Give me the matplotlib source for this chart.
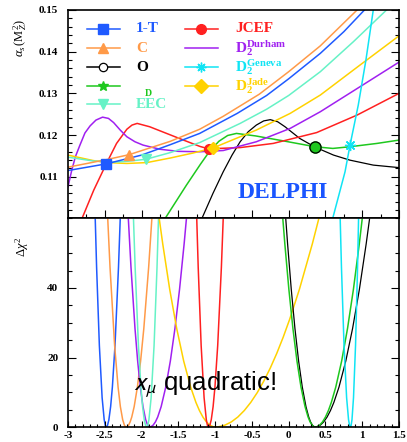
import matplotlib
matplotlib.use('Agg')
import matplotlib.pyplot as plt
from matplotlib.path import Path
from matplotlib.patches import PathPatch
from matplotlib.ticker import MultipleLocator

# ==========================================
# alpha_s(M_Z^2) vs x_mu  and  delta chi^2 vs x_mu (DELPHI)
# ==========================================
plt.rcParams['font.family'] = 'Liberation Serif'
plt.rcParams['mathtext.fontset'] = 'custom'
plt.rcParams['mathtext.rm'] = 'Liberation Serif'
plt.rcParams['mathtext.it'] = 'Liberation Serif:italic'
plt.rcParams['mathtext.bf'] = 'Liberation Serif:bold'

# --- top panel: alpha_s curves ---
x_1t = [-3.0, -2.48, -2.0, -1.61, -1.21, -0.70, -0.30, 0.0, 0.43, 0.75, 1.03]
a_1t = [0.1115, 0.1131, 0.1152, 0.1177, 0.1204, 0.1252, 0.1295, 0.1335, 0.1396, 0.1448, 0.1500]

x_c = [-3.0, -2.48, -2.17, -1.61, -1.21, -0.89, -0.40, 0.0, 0.43, 0.93]
a_c = [0.1123, 0.1141, 0.1153, 0.1185, 0.1214, 0.1245, 0.1298, 0.1352, 0.1414, 0.1500]

x_eec = [-3.0, -2.66, -2.40, -2.20, -1.94, -1.61, -1.21, -0.66, -0.30, 0.0, 0.43, 0.88, 1.33]
a_eec = [0.1147, 0.1138, 0.1135, 0.1137, 0.1142, 0.1158, 0.1182, 0.1228, 0.1262, 0.1295, 0.1352, 0.1424, 0.1500]

x_jade = [-3.0, -2.66, -2.47, -2.20, -1.93, -1.61, -1.30, -1.03, -0.44, 0.02, 0.43, 0.97, 1.5]
a_jade = [0.1152, 0.1139, 0.1134, 0.1132, 0.1134, 0.1145, 0.1157, 0.1169, 0.1212, 0.1252, 0.1296, 0.1368, 0.1438]

x_durham = [-3.0, -2.95, -2.90, -2.84, -2.77, -2.70, -2.62, -2.53, -2.45, -2.38, -2.29, -2.20,
            -2.09, -1.98, -1.75, -1.50, -1.21, -0.89, -0.44, 0.02, 0.43, 0.97, 1.5]
a_durham = [0.1076, 0.1115, 0.1148, 0.1175, 0.1205, 0.1222, 0.1236, 0.1243, 0.1240, 0.1230, 0.1212, 0.1196,
            0.1184, 0.1176, 0.1166, 0.1161, 0.1160, 0.1163, 0.1184, 0.1216, 0.1256, 0.1316, 0.1375]

x_jcef = [-2.81, -2.65, -2.48, -2.34, -2.20, -2.13, -2.06, -1.89, -1.66, -1.43, -1.21, -1.09,
          -0.66, -0.21, 0.38, 0.93, 1.5]
a_jcef = [0.1000, 0.1068, 0.1131, 0.1180, 0.1214, 0.1224, 0.1228, 0.1220, 0.1204, 0.1188, 0.1173, 0.1167,
          0.1170, 0.1180, 0.1206, 0.1248, 0.1300]

x_d = [-1.68, -1.39, -1.20, -1.08, -0.95, -0.83, -0.71, -0.45, -0.07, 0.36, 0.60, 0.83, 1.20, 1.50]
a_d = [0.1000, 0.1080, 0.1130, 0.1160, 0.1185, 0.1199, 0.1204, 0.1198, 0.1186, 0.1172, 0.1168, 0.1172, 0.1180, 0.1188]

x_o = [-1.18, -1.03, -0.89, -0.77, -0.66, -0.55, -0.44, -0.34, -0.25, -0.15, -0.05, 0.05, 0.15,
       0.36, 0.61, 0.83, 1.15, 1.50]
a_o = [0.1000, 0.1060, 0.1112, 0.1152, 0.1184, 0.1208, 0.1224, 0.1234, 0.1237, 0.1232, 0.1220, 0.1206, 0.1192,
       0.1171, 0.1152, 0.1140, 0.1128, 0.1122]

x_geneva = [0.598, 0.766, 0.834, 0.946, 1.05, 1.15]
a_geneva = [0.100, 0.1112, 0.1176, 0.1272, 0.138, 0.150]

# fitted points (markers) on the top panel
best_1t = (-2.48, 0.1131)
best_c = (-2.17, 0.1153)
best_o = (0.36, 0.1171)
best_d = (0.36, 0.1171)
best_eec = (-1.94, 0.1142)
best_jcef = (-1.09, 0.1167)
best_jade = (-1.03, 0.1169)
best_geneva = (0.834, 0.1176)

# --- bottom panel: delta chi2 parabolas (minimum, left/right crossing at top) ---
chi2_top = 60
chi2_min = {'1-T': -2.48, 'C': -2.21, 'O': 0.36, 'D': 0.36, 'EEC': -1.93,
            'JCEF': -1.09, 'Durham': -1.89, 'Geneva': 0.84, 'Jade': -1.00}
chi2_left = {'1-T': -2.63, 'C': -2.46, 'O': -0.04, 'D': -0.08, 'EEC': -2.11,
             'JCEF': -1.25, 'Durham': -2.18, 'Geneva': 0.70, 'Jade': -1.76}
chi2_right = {'1-T': -2.29, 'C': -1.86, 'O': 1.10, 'D': 1.00, 'EEC': -1.77,
              'JCEF': -0.89, 'Durham': -1.39, 'Geneva': 0.95, 'Jade': 0.41}

x_ticks = [-3, -2.5, -2, -1.5, -1, -0.5, 0, 0.5, 1, 1.5]
x_tick_labels = ['-3', '-2.5', '-2', '-1.5', '-1', '-0.5', '0', '0.5', '1', '1.5']
a_ticks = [0.11, 0.12, 0.13, 0.14, 0.15]
c_ticks = [0, 20, 40]

colors = {
    '1-T': '#1f5aff', 'C': '#ff9a48', 'O': '#000000', 'D': '#1ec81e', 'EEC': '#66f2c6',
    'JCEF': '#ff2020', 'Durham': '#a020f0', 'Geneva': '#10e4f4', 'Jade': '#ffd200',
}

fig = plt.figure(figsize=(4.07, 4.42), dpi=100)
ax1 = fig.add_axes([0.1671, 0.5057, 0.8133, 0.4717])
ax2 = fig.add_axes([0.1671, 0.0339, 0.8133, 0.4718])

lw = 1.1

# top panel curves
ax1.plot(x_o, a_o, color=colors['O'], lw=0.9)
ax1.plot(x_d, a_d, color=colors['D'], lw=lw)
ax1.plot(x_jcef, a_jcef, color=colors['JCEF'], lw=lw)
ax1.plot(x_durham, a_durham, color=colors['Durham'], lw=lw)
ax1.plot(x_jade, a_jade, color=colors['Jade'], lw=lw)
ax1.plot(x_eec, a_eec, color=colors['EEC'], lw=lw)
ax1.plot(x_c, a_c, color=colors['C'], lw=lw)
ax1.plot(x_1t, a_1t, color=colors['1-T'], lw=lw)
ax1.plot(x_geneva, a_geneva, color=colors['Geneva'], lw=lw)

# markers at the minima
ax1.plot(*best_1t, marker='s', ms=7, color=colors['1-T'])
ax1.plot(*best_c, marker='^', ms=7, color=colors['C'])
ax1.plot(*best_eec, marker='v', ms=7, color=colors['EEC'])
ax1.plot(*best_jcef, marker='o', ms=7, color=colors['JCEF'])
ax1.plot(*best_jade, marker='D', ms=6, color=colors['Jade'])
ax1.plot(*best_d, marker='o', ms=8, color=colors['D'], mec=colors['D'])
ax1.plot(*best_o, marker='o', ms=8, mfc='none', mec='black', mew=0.9)
ax1.plot(*best_geneva, marker=(8, 2, 0), ms=8, color=colors['Geneva'], mew=1.0)

# bottom panel parabolas (quadratic bezier branches)
for key in ['1-T', 'C', 'Durham', 'EEC', 'Jade', 'JCEF', 'O', 'D', 'Geneva']:
    x0 = chi2_min[key]
    xl = chi2_left[key]
    xr = chi2_right[key]
    verts = [(xl, chi2_top), ((xl + x0) / 2, 0), (x0, 0), ((x0 + xr) / 2, 0), (xr, chi2_top)]
    codes = [Path.MOVETO, Path.CURVE3, Path.CURVE3, Path.CURVE3, Path.CURVE3]
    ax2.add_patch(PathPatch(Path(verts, codes), fill=False, edgecolor=colors[key],
                            lw=0.9 if key == 'O' else lw))

# axes setup
for ax in (ax1, ax2):
    ax.set_xlim(-3, 1.5)
    for sp in ax.spines.values():
        sp.set_linewidth(1.2)
    ax.tick_params(which='both', direction='in', left=True, right=True, top=False, bottom=True,
                   width=0.8)

ax1.set_ylim(0.10, 0.15)
ax1.set_yticks(a_ticks)
ax1.set_yticklabels(['%.2f' % v for v in a_ticks], fontsize=8, fontweight='bold')
ax1.yaxis.set_minor_locator(MultipleLocator(0.002))
ax1.xaxis.set_major_locator(MultipleLocator(0.5))
ax1.xaxis.set_minor_locator(MultipleLocator(0.25))
ax1.tick_params(which='major', length=6, pad=7)
ax1.tick_params(which='minor', length=3)
ax1.tick_params(labelbottom=False)

ax2.set_ylim(0, chi2_top)
ax2.set_yticks(c_ticks)
ax2.set_yticklabels([str(v) for v in c_ticks], fontsize=8, fontweight='bold')
ax2.yaxis.set_minor_locator(MultipleLocator(5))
ax2.set_xticks(x_ticks)
ax2.set_xticklabels(x_tick_labels, fontsize=8, fontweight='bold')
ax2.xaxis.set_minor_locator(MultipleLocator(0.1))
ax2.tick_params(axis='y', which='major', length=6, pad=7)
ax2.tick_params(axis='y', which='minor', length=3)
ax2.tick_params(axis='x', which='major', length=4, pad=3)
ax2.tick_params(axis='x', which='minor', length=2)

# hand made legend
rows = [0.909, 0.816, 0.725, 0.637, 0.549]
left_col = [('1-T', 's', '1-T'), ('C', '^', 'C'), ('O', 'o', 'O'), ('D', '*', ''), ('EEC', 'v', 'EEC')]
for fy, (key, mk, lab) in zip(rows, left_col):
    ax1.plot([0.057, 0.157], [fy, fy], transform=ax1.transAxes, color=colors[key], lw=lw)
    if mk == 'o':
        ax1.plot(0.106, fy, marker='o', ms=6, mfc='white', mec=colors[key], mew=0.9,
                 transform=ax1.transAxes)
    else:
        ax1.plot(0.106, fy, marker=mk, ms=7, color=colors[key], transform=ax1.transAxes)
    if lab:
        ax1.text(0.205, fy, lab, transform=ax1.transAxes, color=colors[key], fontsize=11,
                 fontweight='bold', va='center', ha='left')
ax1.text(0.233, 0.598, 'D', transform=ax1.transAxes, color=colors['D'], fontsize=7,
         fontweight='bold', va='center', ha='left')

right_col = [('JCEF', 'o', 'JCEF'),
             ('Durham', None, r'$\mathbf{D}_{\mathbf{2}}^{\mathbf{Durham}}$'),
             ('Geneva', (8, 2, 0), r'$\mathbf{D}_{\mathbf{2}}^{\mathbf{Geneva}}$'),
             ('Jade', 'D', r'$\mathbf{D}_{\mathbf{2}}^{\mathbf{Jade}}$')]
for fy, (key, mk, lab) in zip(rows, right_col):
    ax1.plot([0.353, 0.453], [fy, fy], transform=ax1.transAxes, color=colors[key], lw=lw)
    if mk is not None:
        ax1.plot(0.402, fy, marker=mk, ms=7, color=colors[key], mew=1.0, transform=ax1.transAxes)
    ax1.text(0.505, fy, lab, transform=ax1.transAxes, color=colors[key], fontsize=11,
             fontweight='bold', va='center', ha='left')

ax1.text(0.65, 0.127, 'DELPHI', transform=ax1.transAxes, color='#1a55ff', fontsize=17,
         fontweight='bold', ha='center', va='center')

ax2.text(0.196, 0.174, r'$x_\mu$ quadratic!', transform=ax2.transAxes, fontsize=18.5,
         family='Liberation Sans', math_fontfamily='stixsans', ha='left', va='baseline')

fig.text(20 / 407, 1 - 38 / 442, r'$\alpha_s\,(\mathrm{M}_Z^2)$', rotation=90, fontsize=9,
         ha='center', va='center')
fig.text(22 / 407, 1 - 247 / 442, r'$\Delta\chi^2$', rotation=90, fontsize=9,
         ha='center', va='center')

plt.savefig('out.png', dpi=100)
plt.close(fig)
